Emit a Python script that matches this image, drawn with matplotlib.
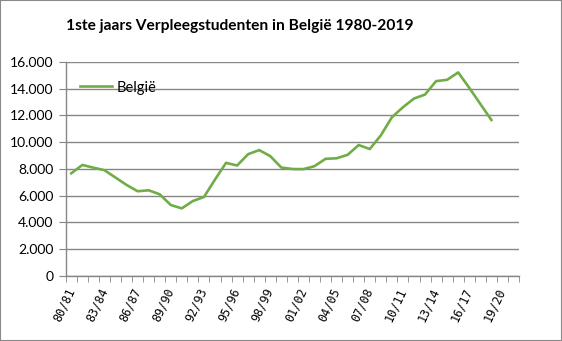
import matplotlib
matplotlib.use("Agg")
import matplotlib.pyplot as plt
from matplotlib.patches import Rectangle
from matplotlib.ticker import FuncFormatter, FixedLocator

# academiejaren op de x-as (laatste twee zonder gegevens)
seasons = ["80/81", "81/82", "82/83", "83/84", "84/85", "85/86", "86/87", "87/88",
           "88/89", "89/90", "90/91", "91/92", "92/93", "93/94", "94/95", "95/96",
           "96/97", "97/98", "98/99", "99/00", "00/01", "01/02", "02/03", "03/04",
           "04/05", "05/06", "06/07", "07/08", "08/09", "09/10", "10/11", "11/12",
           "12/13", "13/14", "14/15", "15/16", "16/17", "17/18", "18/19", "19/20",
           "20/21"]

# aantal eerstejaars verpleegstudenten, 80/81 t/m 18/19
belgie = [7670, 8290, 8090, 7900, 7350, 6800, 6330, 6400, 6100, 5300,
          5050, 5600, 5900, 7200, 8450, 8250, 9100, 9400, 8950, 8100,
          7990, 7980, 8200, 8750, 8790, 9050, 9780, 9480, 10500, 11850,
          12600, 13250, 13550, 14550, 14650, 15200, 14050, 12850, 11650]

green = "#70ad47"
grid_grey = "#868686"

fig = plt.figure(figsize=(5.62, 3.41), dpi=100)
ax = fig.add_axes([0.117, 0.1906, 0.8065, 0.6284])

ax.plot(range(len(belgie)), belgie, color=green, linewidth=1.9,
        solid_joinstyle="round", label="België")

ax.set_xlim(-0.5, len(seasons) - 0.5)
ax.set_ylim(0, 16000)
ax.set_yticks(range(0, 16001, 2000))
ax.yaxis.set_major_formatter(FuncFormatter(lambda v, p: f"{int(v):,}".replace(",", ".")))
ax.grid(axis="y", color=grid_grey, linewidth=1.0)
ax.set_axisbelow(True)

# labels every 3 years, tick marks between the categories
label_pos = list(range(0, len(seasons), 3))
ax.xaxis.set_major_locator(FixedLocator(label_pos))
ax.set_xticklabels([seasons[i] for i in label_pos], rotation=65,
                   ha="right", va="center", rotation_mode="anchor",
                   family="DejaVu Sans Mono", fontsize=8.5)
ax.xaxis.set_minor_locator(FixedLocator([i - 0.5 for i in range(len(seasons) + 1)]))
ax.tick_params(axis="x", which="major", length=0, pad=9)
ax.tick_params(axis="x", which="minor", length=4, color=grid_grey, direction="out")
ax.tick_params(axis="y", length=5, color=grid_grey, pad=4, labelsize=10)
for lbl in ax.get_yticklabels():
    lbl.set_family("Lato")

for side in ("top", "right"):
    ax.spines[side].set_visible(False)
for side in ("left", "bottom"):
    ax.spines[side].set_color(grid_grey)
    ax.spines[side].set_linewidth(1.0)

ax.legend(loc="upper left", frameon=False, prop={"family": "Lato", "size": 10.5},
          handlelength=2.2, handletextpad=0.3, bbox_to_anchor=(0.0, 0.98),
          borderaxespad=0.6)

fig.text(0.427, 0.925, "1ste jaars Verpleegstudenten in België 1980-2019",
         ha="center", va="center", family="Lato", fontweight="bold", fontsize=11.2)

# rand rond de hele grafiek
fig.patches.append(Rectangle((0, 0), 1, 1, transform=fig.transFigure, fill=False,
                             edgecolor="#898989", linewidth=1.5))

fig.savefig("out.png", dpi=100)
